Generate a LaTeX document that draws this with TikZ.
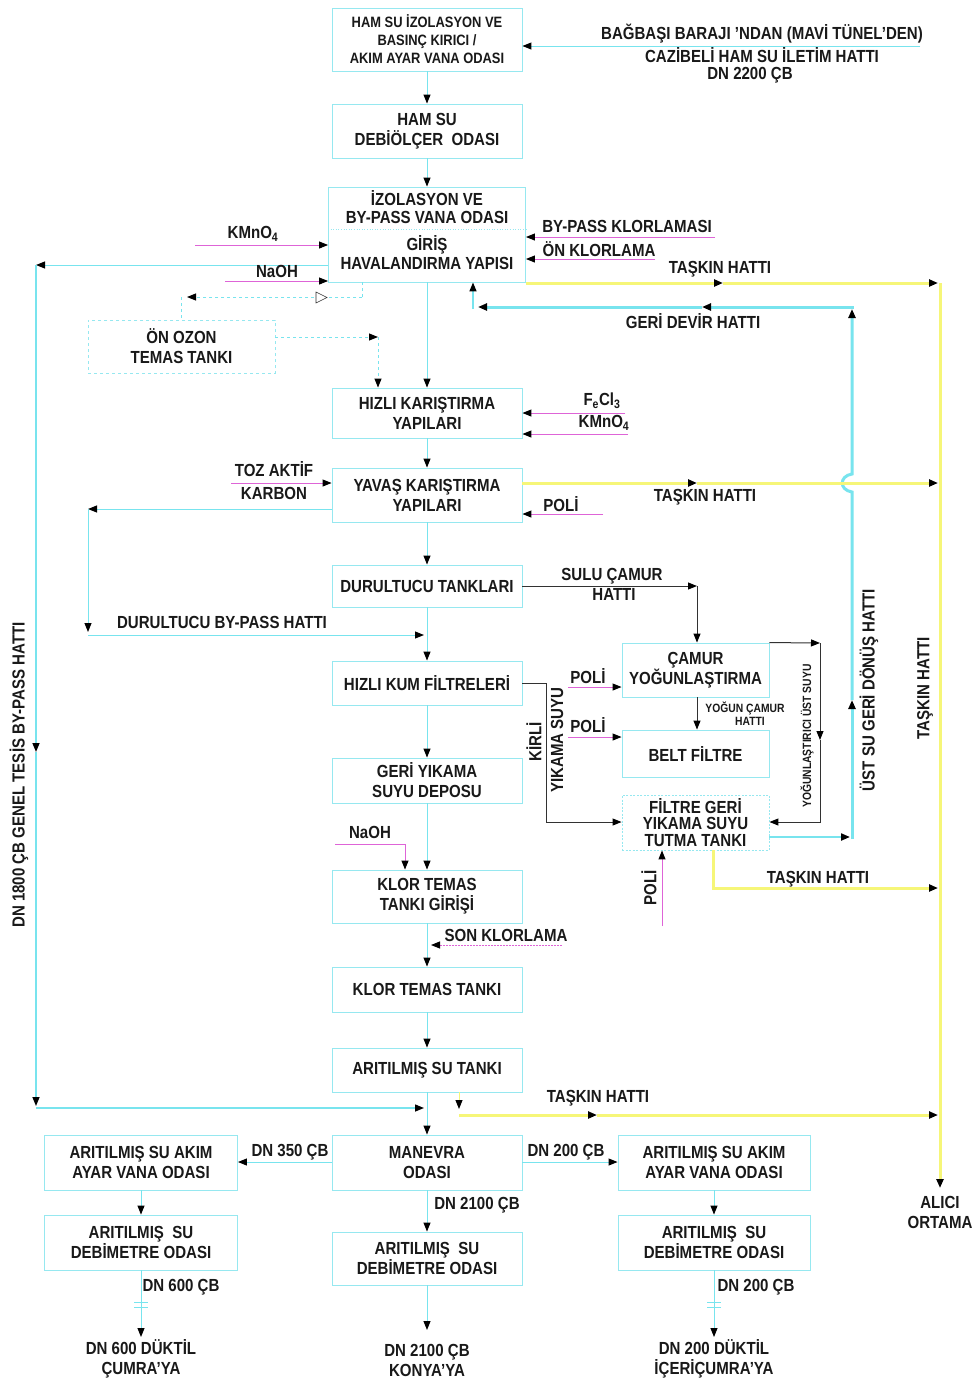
\documentclass[tikz,border=0pt]{standalone}
\usepackage{fontspec}
\setmainfont[FakeStretch=0.86,UprightFont={* Bold}]{Liberation Sans}
\usetikzlibrary{arrows.meta}
\definecolor{cyanL}{RGB}{120,228,238}
\definecolor{cyanB}{RGB}{150,232,240}
\definecolor{ylw}{RGB}{246,246,120}
\definecolor{mgn}{RGB}{222,100,215}
\definecolor{drk}{RGB}{50,50,50}
\definecolor{txt}{RGB}{25,25,25}
\newcommand{\fsz}[2]{\fontsize{#1}{#2}\selectfont}
\begin{document}
\begin{tikzpicture}[x=1pt,y=-1pt,
  every node/.style={text=txt},
  box/.style={draw=cyanB,line width=0.9pt,minimum width=190pt,minimum height=#1,align=center,inner sep=0pt,font=\fsz{17.5}{20}},
  box/.default=50pt,
  arw/.style={-{Triangle[length=9pt,width=7pt,color=black]}},
  cl/.style={draw=cyanL,line width=1pt},
  clM/.style={draw=cyanL,line width=2pt},
  clT/.style={draw=cyanL,line width=3pt},
  yl/.style={draw=ylw,line width=3pt},
  mg/.style={draw=mgn,line width=1pt},
  dk/.style={draw=drk,line width=1pt},
  lbl/.style={font=\fsz{17.5}{20},inner sep=0pt,align=center},
  sml/.style={font=\fsz{12}{13},inner sep=0pt,align=center}]
\fill[white] (0,0) rectangle (979,1382);
\useasboundingbox (0,0) rectangle (979,1382);

% ---------- boxes ----------
\node[box=63pt,font=\fsz{15}{18}] (b1) at (427,39.5) {HAM SU İZOLASYON VE\\BASINÇ KIRICI /\\AKIM AYAR VANA ODASI};
\node[box=54pt] (b2) at (427,131) {HAM SU\\DEBİÖLÇER\ \ ODASI};
\node[box=95pt,minimum width=197pt] (b3) at (427,234.5) {};
\node[lbl,font=\fsz{17.5}{18}] (b3t1) at (427,207) {İZOLASYON VE\\BY-PASS VANA ODASI};
\node[lbl,font=\fsz{17.5}{19}] (b3t2) at (427,253) {GİRİŞ\\HAVALANDIRMA YAPISI};
\coordinate (b3d) at (0,229);
\draw[cyanB,line width=0.6pt,dotted] (b3d -| b3.west) -- (b3d -| b3.east);
\node[box=53pt,minimum width=187pt,dashed] (oz) at (181.5,346.5) {ÖN OZON\\TEMAS TANKI};
\node[box=50pt] (hk) at (427,413) {HIZLI KARIŞTIRMA\\YAPILARI};
\node[box=54pt] (yk) at (427,495) {YAVAŞ KARIŞTIRMA\\YAPILARI};
\node[box=42pt] (dt) at (427,586) {DURULTUCU TANKLARI};
\node[box=44pt] (kf) at (427,683) {HIZLI KUM FİLTRELERİ};
\node[box=45pt] (gy) at (427,780.5) {GERİ YIKAMA\\SUYU DEPOSU};
\node[box=53pt] (kg) at (427,896.5) {KLOR TEMAS\\TANKI GİRİŞİ};
\node[box=45pt] (kt) at (427,989.5) {KLOR TEMAS TANKI};
\node[box=44pt] (at) at (427,1070) {ARITILMIŞ SU TANKI};
\node[box=55pt] (mv) at (427,1162.5) {MANEVRA\\ODASI};
\node[box=55pt,minimum width=193pt] (lv) at (141,1162.5) {ARITILMIŞ SU AKIM\\AYAR VANA ODASI};
\node[box=55pt,minimum width=192pt] (rv) at (714,1162.5) {ARITILMIŞ SU AKIM\\AYAR VANA ODASI};
\node[box=55pt,minimum width=193pt] (ld) at (141,1242.5) {ARITILMIŞ\ \ SU\\DEBİMETRE ODASI};
\node[box=53pt] (md) at (427,1258.5) {ARITILMIŞ\ \ SU\\DEBİMETRE ODASI};
\node[box=55pt,minimum width=192pt] (rd) at (714,1242.5) {ARITILMIŞ\ \ SU\\DEBİMETRE ODASI};
\node[box=54pt,minimum width=147pt] (cy) at (695.5,670) {ÇAMUR\\YOĞUNLAŞTIRMA};
\node[box=47pt,minimum width=147pt] (bf) at (695.5,753.5) {BELT FİLTRE};
\node[box=55pt,minimum width=147pt,dash pattern=on 2pt off 1.5pt,font=\fsz{17.5}{16.5}] (fg) at (695.5,822.5) {FİLTRE GERİ\\YIKAMA SUYU\\TUTMA TANKI};

% ---------- yellow overflow main vertical ----------
\coordinate (yv1) at (940,283);
\coordinate (yv2) at (940,1188);
\draw[yl,arw] (yv1) -- (yv2);

% ---------- inlet ----------
\coordinate (inR) at (920,46);
\draw[cl,arw] (inR) -- (inR -| b1.east);
\node[lbl] (inL1) at (762,34) {BAĞBAŞI BARAJI 'NDAN (MAVİ TÜNEL'DEN)};
\node[lbl] (inL2) at (762,55) {CAZİBELİ HAM SU İLETİM HATTI};
\node[lbl] (inL3) at (750,75) {DN 2200 ÇB};

\draw[cl,arw] (b1) -- (b2);
\draw[cl,arw] (b2) -- (b3);
\draw[cl,arw] (b3) -- (hk);

% ---------- general by-pass ----------
\coordinate (bpA) at (36,265);
\coordinate (bpB) at (36,752);
\coordinate (bpC) at (36,1106);
\coordinate (bpD) at (36,1108);
\coordinate (bpE) at (424,1108);
\draw[cl,arw] (bpA -| b3.west) -- (bpA);
\draw[cl,line width=1.4pt,arw] (bpA) -- (bpB);
\draw[cl,line width=1.4pt,arw] (bpB) -- (bpC);
\draw[cl,line width=1.4pt,arw] (bpD) -- (bpE);
\node[lbl,rotate=90] (bpL) at (19,775) {DN 1800 ÇB GENEL TESİS BY-PASS HATTI};

% ---------- chemicals at inlet structure ----------
\coordinate (km1) at (195,245);
\draw[mg,arw] (km1) -- (km1 -| b3.west);
\node[lbl] (kmL) at (253,234) {KMnO\textsubscript{4}};
\coordinate (na1) at (225,281);
\draw[mg,arw] (na1) -- (na1 -| b3.west);
\node[lbl] (naL) at (277,271) {NaOH};
\coordinate (bk1) at (715,237);
\draw[mg,arw] (bk1) -- (bk1 -| b3.east);
\node[lbl] (bkL) at (627,226) {BY-PASS KLORLAMASI};
\coordinate (ok1) at (655,259);
\draw[mg,arw] (ok1) -- (ok1 -| b3.east);
\node[lbl] (okL) at (599,249) {ÖN KLORLAMA};

% ---------- pre-ozone ----------
\coordinate (oz1) at (362,282);
\coordinate (oz2) at (362,297);
\coordinate (oz3) at (187,297);
\coordinate (oz4) at (181.5,297);
\draw[cl,dashed] (oz1) -- (oz2);
\draw[cl,dashed,arw] (oz2) -- (oz3);
\draw[cl,dashed] (oz4) -- (oz4 |- oz.north);
\draw[drk,line width=0.6pt,fill=white] (316,292) -- (327,297.5) -- (316,303) -- cycle;
\coordinate (oz5) at (378,337);
\draw[cl,dashed,arw] (oz5 -| oz.east) -- (oz5);
\draw[cl,dashed,arw] (oz5) -- (oz5 |- hk.north);

% ---------- top overflow ----------
\coordinate (t1b) at (723,283);
\coordinate (t1c) at (938,283);
\draw[yl,arw] (t1b -| b3.east) -- (t1b);
\draw[yl,arw] (t1b) -- (t1c);
\node[lbl] (t1L) at (720,269) {TAŞKIN HATTI};

% ---------- return line ----------
\coordinate (gd1) at (852,839);
\coordinate (gd2) at (852,700);
\coordinate (gd3a) at (852,492);
\coordinate (gd3b) at (852,474);
\coordinate (gd4) at (852,309);
\coordinate (gd4h) at (853.5,307);
\coordinate (gd5) at (702,307);
\coordinate (gd6) at (478,307);
\coordinate (gd7) at (473,309);
\draw[clT,arw] (gd1) -- (gd2);
\draw[clT,arw] (gd2) -- (gd3a) .. controls (839,490) and (839,476) .. (gd3b) -- (gd4);
\draw[clT,arw] (gd4h) -- (gd5);
\draw[clT,arw] (gd5) -- (gd6);
\draw[cl,line width=1.5pt,arw] (gd7) -- (gd7 |- b3.south);
\node[lbl] (gdL) at (693,321) {GERİ DEVİR HATTI};
\node[lbl,rotate=90] (usL) at (869,690) {ÜST SU GERİ DÖNÜŞ HATTI};
\node[lbl,rotate=90] (tvL) at (925,688) {TAŞKIN HATTI};

% ---------- rapid mixing ----------
\coordinate (fe1) at (625,413);
\draw[mg,arw] (fe1) -- (fe1 -| hk.east);
\node[lbl] (feL) at (602,401) {F\textsubscript{e}Cl\textsubscript{3}};
\coordinate (km2) at (628,434);
\draw[mg,arw] (km2) -- (km2 -| hk.east);
\node[lbl] (km2L) at (604,423) {KMnO\textsubscript{4}};
\draw[cl,arw] (hk) -- (yk);

% ---------- slow mixing ----------
\coordinate (tz1) at (231,483);
\draw[mg,arw] (tz1) -- (tz1 -| yk.west);
\node[lbl] (tzL1) at (274,469) {TOZ AKTİF};
\node[lbl] (tzL2) at (274,493) {KARBON};
\coordinate (po1) at (603,514);
\draw[mg,arw] (po1) -- (po1 -| yk.east);
\node[lbl] (poL) at (561,504) {POLİ};
\coordinate (t2b) at (697,483);
\coordinate (t2c) at (938,483);
\draw[yl,arw] (t2b -| yk.east) -- (t2b);
\draw[yl,arw] (t2b) -- (t2c);
\node[lbl] (t2L) at (705,497) {TAŞKIN HATTI};
\coordinate (dbA) at (88,509);
\coordinate (dbB) at (88,632);
\coordinate (dbC) at (88,635);
\coordinate (dbD) at (424,635);
\draw[cl,arw] (dbA -| yk.west) -- (dbA);
\draw[cl,arw] (dbA) -- (dbB);
\draw[cl,arw] (dbC) -- (dbD);
\node[lbl] (dbL) at (222,622) {DURULTUCU BY-PASS HATTI};

\draw[cl,arw] (yk) -- (dt);
\draw[cl,arw] (dt) -- (kf);

% ---------- sludge ----------
\coordinate (sc1) at (697,586);
\draw[dk,arw] (dt.east) -- (sc1);
\draw[dk,arw] (sc1) -- (sc1 |- cy.north);
\node[lbl] (scL1) at (612,576) {SULU ÇAMUR};
\node[lbl] (scL2) at (614,594) {HATTI};

\coordinate (ky1) at (546,683);
\coordinate (ky2) at (546,822);
\draw[dk,arw] (kf.east) -- (ky1) -- (ky2) -- (ky2 -| fg.west);
\node[lbl,rotate=90] (kyL1) at (534,742) {KİRLİ};
\node[lbl,rotate=90] (kyL2) at (557,740) {YIKAMA SUYU};

\coordinate (pc1) at (568,687);
\draw[mg,arw] (pc1) -- (pc1 -| cy.west);
\node[lbl] (pcL) at (588,676) {POLİ};
\coordinate (pb1) at (568,737);
\draw[mg,arw] (pb1) -- (pb1 -| bf.west);
\node[lbl] (pbL) at (588,725) {POLİ};

\draw[dk,arw] (cy.south -| sc1) -- (bf.north -| sc1);
\node[sml] (ycL) at (745,714) {YOĞUN ÇAMUR\\\hspace*{10pt}HATTI};

\coordinate (us1) at (820,643);
\coordinate (us2) at (820,740);
\coordinate (us3) at (820,822);
\draw[dk,arw] (cy.north east) -- (us1);
\draw[dk,arw] (us1) -- (us2);
\draw[dk,arw] (us2) -- (us3) -- (us3 -| fg.east);
\node[sml,rotate=90] (usuL) at (807,736) {YOĞUNLAŞTIRICI ÜST SUYU};

\coordinate (fo1) at (850,837);
\draw[clM,arw] (fo1 -| fg.east) -- (fo1);
\coordinate (fy1) at (713,888);
\coordinate (fy2) at (938,888);
\draw[yl,arw] (fy1 |- fg.south) -- (fy1) -- (fy2);
\node[lbl] (fyL) at (818,879) {TAŞKIN HATTI};
\coordinate (pf1) at (662,926);
\draw[mg,arw] (pf1) -- (pf1 |- fg.south);
\node[lbl,rotate=90] (pfL) at (649,888) {POLİ};

% ---------- filtration to disinfection ----------
\draw[cl,arw] (kf) -- (gy);
\draw[cl,arw] (gy) -- (kg);
\coordinate (nb1) at (335,844);
\coordinate (nb2) at (405,844);
\draw[mg,arw] (nb1) -- (nb2) -- (nb2 |- kg.north);
\node[lbl] (nbL) at (370,832) {NaOH};
\draw[cl,arw] (kg) -- (kt);
\coordinate (sk1) at (562,945);
\coordinate (sk2) at (431,945);
\draw[mg,dash pattern=on 2pt off 1pt,arw] (sk1) -- (sk2);
\node[lbl] (skL) at (506,935) {SON KLORLAMA};
\draw[cl,arw] (kt) -- (at);
\draw[cl,arw] (at) -- (mv);

% ---------- bottom overflow ----------
\coordinate (ya1) at (459,1109);
\coordinate (ya2) at (459,1115);
\coordinate (ya3) at (597,1115);
\coordinate (ya4) at (938,1115);
\draw[ylw,line width=1pt,arw] (ya1 |- at.south) -- (ya1);
\draw[yl,arw] (ya2) -- (ya3);
\draw[yl,arw] (ya3) -- (ya4);
\node[lbl] (yaL) at (598,1098) {TAŞKIN HATTI};
\node[lbl] (alL) at (940,1212) {ALICI\\ORTAMA};

% ---------- distribution ----------
\coordinate (m1) at (0,1162);
\draw[cl,arw] (mv.west |- m1) -- (lv.east |- m1);
\node[lbl] (m1L) at (290,1152) {DN 350 ÇB};
\draw[cl,arw] (mv.east |- m1) -- (rv.west |- m1);
\node[lbl] (m2L) at (566,1152) {DN 200 ÇB};
\draw[cl,arw] (mv) -- (md);
\node[lbl] (m3L) at (477,1205) {DN 2100 ÇB};
\draw[cl,arw] (lv) -- (ld);
\draw[cl,arw] (rv) -- (rd);

\coordinate (lo) at (141,1337);
\draw[cl,arw] (ld.south -| lo) -- (lo);
\draw[cl] (134,1302) -- (148,1302);
\draw[cl] (134,1307) -- (148,1307);
\node[lbl] (loL1) at (181,1287) {DN 600 ÇB};
\node[lbl] (loL2) at (141,1359) {DN 600 DÜKTİL\\ÇUMRA'YA};

\coordinate (mo) at (427,1330);
\draw[cl,arw] (md) -- (mo);
\node[lbl] (moL) at (427,1360) {DN 2100 ÇB\\KONYA'YA};

\coordinate (ro) at (714,1337);
\draw[cl,arw] (rd.south -| ro) -- (ro);
\draw[cl] (707,1302) -- (721,1302);
\draw[cl] (707,1307) -- (721,1307);
\node[lbl] (roL1) at (756,1287) {DN 200 ÇB};
\node[lbl] (roL2) at (714,1359) {DN 200 DÜKTİL\\İÇERİÇUMRA'YA};
\end{tikzpicture}
\end{document}
